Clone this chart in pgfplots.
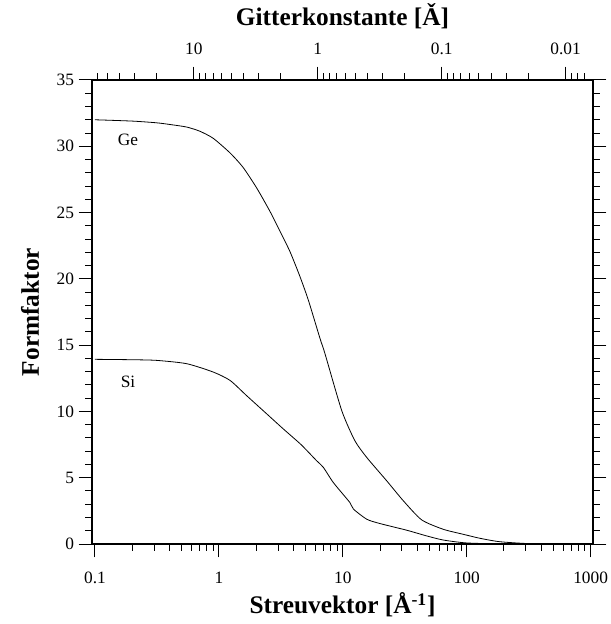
\documentclass[border=0pt]{standalone}
\usepackage{fontspec}
\setmainfont{Liberation Serif}
\usepackage{pgfplots}
\pgfplotsset{compat=1.18}
\begin{document}
\begin{tikzpicture}
\begin{axis}[name=main,
  scale only axis, width=375.75pt, height=348pt,
  xmode=log, ymin=0, ymax=35,
  tick align=outside, xtick align=outside, ytick align=outside,
  major tick length=10pt, minor tick length=5pt,
  every tick/.style={black, line width=0.75pt},
  axis line style={line width=0.9pt},
  ticklabel style={font=\fontsize{13}{15}\selectfont},
  xticklabel style={yshift=-7.5pt},
  /pgf/number format/assume math mode=true,
  label style={font=\fontsize{19}{22}\selectfont\bfseries},
  xmin=0.09460, xmax=1045.7,
  xtick={0.1,1,10,100,1000},
  xticklabels={0.1,1,10,100,1000},
  minor xtick={0.2,0.3,0.4,0.5,0.6,0.7,0.8,0.9,2,3,4,5,6,7,8,9,20,30,40,50,60,70,80,90,200,300,400,500,600,700,800,900},
  xtick pos=left, ytick pos=both,
  ytick={0,5,...,35}, yticklabels={0,5,10,15,20,25,30,35},
  minor y tick num=4,
  xlabel={Streuvektor [Å\textsuperscript{-1}]},
  ylabel={Formfaktor},
  xlabel style={at={(axis description cs:0.5,-0.1315)}, anchor=center},
  ylabel style={at={(axis description cs:-0.1238,0.5)}, anchor=center},
]
\addplot[black, line width=0.6pt, smooth, tension=0.4] coordinates {
(0.1,32) (0.2,31.9) (0.315,31.77) (0.42,31.62) (0.55,31.45) (0.7,31.14) (0.9,30.6) (1.23,29.5) (1.57,28.4)
(2.02,26.85) (2.58,25.1) (3.11,23.6) (3.75,22.05) (4.5,20.2) (5.27,18.4) (6.55,15.5) (7.18,14.36)
(9.8,10.07) (12.5,7.8) (15.6,6.53) (22.6,4.77) (30.8,3.26) (43.3,1.82)
(64.7,1.11) (94,0.73) (128,0.43) (186,0.17) (343,0.02) (1000,0)
};
\addplot[black, line width=0.6pt, smooth, tension=0.4] coordinates {
(0.1,13.93) (0.2,13.9) (0.315,13.85) (0.55,13.6) (0.9,12.97) (1.23,12.34) (1.67,11.2)
(2.43,9.82) (3.31,8.68) (4.6,7.5) (6.15,6.28) (6.97,5.78) (8.38,4.64)
(11.4,3.13) (12.2,2.63) (15.6,1.87) (20,1.54) (32.8,1.04) (47.5,0.61)
(64.7,0.30) (100,0.08) (200,0.01) (1000,0)
};
\node[font=\fontsize{13}{15}\selectfont] at (axis cs:0.185,30.5) {Ge};
\node[font=\fontsize{13}{15}\selectfont] at (axis cs:0.185,12.26) {Si};
\end{axis}
\begin{axis}[
  scale only axis, width=375.75pt, height=348pt,
  xmode=log, ymin=0, ymax=35,
  tick align=outside,
  major tick length=10pt, minor tick length=5pt,
  every tick/.style={black, line width=0.75pt},
  axis line style={line width=0.9pt},
  ticklabel style={font=\fontsize{13}{15}\selectfont},
  xticklabel style={yshift=5.25pt},
  xmin=0.006009, xmax=66.43, x dir=reverse,
  axis x line*=top, axis y line=none,
  xtick={10,1,0.1,0.01},
  xticklabels={10,1,0.1,0.01},
  minor xtick={60,50,40,30,20,9,8,7,6,5,4,3,2,0.9,0.8,0.7,0.6,0.5,0.4,0.3,0.2,0.09,0.08,0.07,0.06,0.05,0.04,0.03,0.02,0.009,0.008,0.007},
  title={Gitterkonstante [Ǎ]},
  title style={font=\fontsize{19}{22}\selectfont\bfseries, at={(axis description cs:0.5,1.1207)}, anchor=center},
]
\addplot[draw=none] coordinates {(1,1)};
\end{axis}
\pgfresetboundingbox
\path[use as bounding box] ([shift={(-69pt,-60pt)}]main.south west) rectangle ([shift={(12.75pt,60pt)}]main.north east);
\end{tikzpicture}
\end{document}
